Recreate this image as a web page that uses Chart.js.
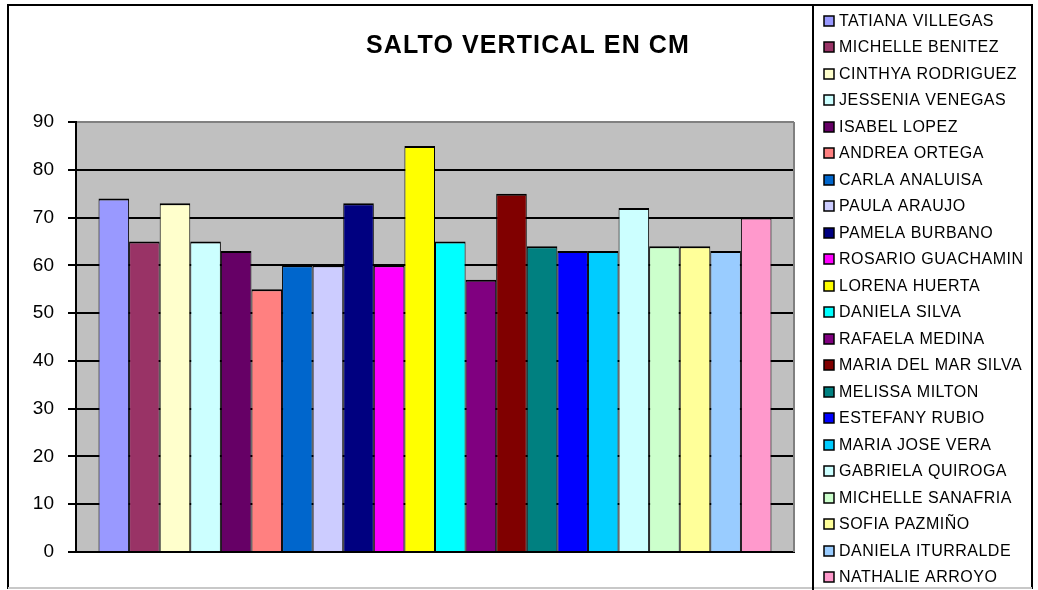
<!DOCTYPE html>
<html>
<head>
<meta charset="utf-8">
<script src="https://cdn.jsdelivr.net/npm/chart.js@4"></script>
<style>
  html, body { margin: 0; padding: 0; background: #fff; }
  #wrap { width: 1038px; height: 590px; position: relative; }
</style>
</head>
<body>
<div id="wrap"><canvas id="c" width="1038" height="590"></canvas></div>
<script>
// Vertical jump results (cm), one bar per athlete
const TITLE = 'SALTO VERTICAL EN CM';
const ATHLETES = [
  'TATIANA VILLEGAS', 'MICHELLE BENITEZ', 'CINTHYA RODRIGUEZ', 'JESSENIA VENEGAS',
  'ISABEL LOPEZ', 'ANDREA ORTEGA', 'CARLA ANALUISA', 'PAULA ARAUJO',
  'PAMELA BURBANO', 'ROSARIO GUACHAMIN', 'LORENA HUERTA', 'DANIELA SILVA',
  'RAFAELA MEDINA', 'MARIA DEL MAR SILVA', 'MELISSA MILTON', 'ESTEFANY RUBIO',
  'MARIA JOSE VERA', 'GABRIELA QUIROGA', 'MICHELLE SANAFRIA', 'SOFIA PAZMIÑO',
  'DANIELA ITURRALDE', 'NATHALIE ARROYO'
];
const JUMP_CM = [74, 65, 73, 65, 63, 55, 60, 60, 73, 60, 85, 65, 57, 75, 64, 63, 63, 72, 64, 64, 63, 70];
const BAR_COLORS = [
  '#9999FF', '#993366', '#FFFFCC', '#CCFFFF', '#660066', '#FF8080', '#0066CC', '#CCCCFF',
  '#000080', '#FF00FF', '#FFFF00', '#00FFFF', '#800080', '#800000', '#008080', '#0000FF',
  '#00CCFF', '#CCFFFF', '#CCFFCC', '#FFFF99', '#99CCFF', '#FF99CC'
];
const Y_MIN = 0;
const Y_MAX = 90;
const Y_STEP = 10;

const FONT = "'Liberation Sans', Arial, sans-serif";

// White page, outer frame and grey plot background
const framePlugin = {
  id: 'frame',
  beforeDraw(chart) {
    const { ctx, chartArea: a } = chart;
    ctx.save();
    ctx.fillStyle = '#fff';
    ctx.fillRect(0, 0, chart.width, chart.height);
    ctx.fillStyle = '#C0C0C0';
    ctx.fillRect(a.left, a.top, a.right - a.left, a.bottom - a.top);
    ctx.restore();
  },
  beforeDatasetsDraw(chart) {
    const { ctx, chartArea: a } = chart;
    ctx.save();
    ctx.strokeStyle = '#808080';
    ctx.lineWidth = 2;
    ctx.beginPath();
    ctx.moveTo(a.right, a.top);
    ctx.lineTo(a.right, a.bottom);
    ctx.stroke();
    ctx.restore();
  },
  afterDraw(chart) {
    const ctx = chart.ctx;
    ctx.save();
    // outer frame
    ctx.lineWidth = 2;
    ctx.strokeStyle = '#000';
    ctx.beginPath();
    ctx.moveTo(8, 589);
    ctx.lineTo(8, 5);
    ctx.lineTo(1032, 5);
    ctx.lineTo(1032, 589);
    ctx.stroke();
    ctx.strokeStyle = '#C8C8C8';
    ctx.beginPath();
    ctx.moveTo(8, 588);
    ctx.lineTo(1032, 588);
    ctx.stroke();

    // title
    ctx.fillStyle = '#000';
    ctx.font = 'bold 25px ' + FONT;
    ctx.letterSpacing = '1.1px';
    ctx.textAlign = 'center';
    ctx.textBaseline = 'alphabetic';
    ctx.fillText(TITLE, 528, 53);

    // legend box
    ctx.letterSpacing = '0px';
    ctx.strokeStyle = '#000';
    ctx.lineWidth = 2;
    ctx.beginPath();
    ctx.moveTo(813, 5);
    ctx.lineTo(813, 590);
    ctx.stroke();

    ctx.font = '16px ' + FONT;
    ctx.letterSpacing = '0.5px';
    ctx.textAlign = 'left';
    ctx.textBaseline = 'middle';
    chart.data.datasets.forEach((ds, i) => {
      const y = 20.5 + i * 26.5;
      ctx.fillStyle = ds.backgroundColor;
      ctx.fillRect(824, Math.round(y - 5), 10, 10);
      ctx.lineWidth = 1.5;
      ctx.strokeStyle = '#000';
      ctx.strokeRect(824, Math.round(y - 5), 10, 10);
      ctx.fillStyle = '#000';
      ctx.fillText(ds.label, 839, y + 1);
    });
    ctx.restore();
  }
};

const datasets = ATHLETES.map((name, i) => ({
  label: name,
  data: [JUMP_CM[i]],
  backgroundColor: BAR_COLORS[i],
  borderColor: '#000',
  borderWidth: { top: 2, left: 1, right: 1, bottom: 0 },
  barPercentage: 1.0,
  categoryPercentage: 0.9373
}));

new Chart(document.getElementById('c'), {
  type: 'bar',
  data: { labels: [''], datasets },
  plugins: [framePlugin],
  options: {
    responsive: false,
    animation: false,
    devicePixelRatio: 1,
    layout: { padding: { left: 0, top: 122, right: 244, bottom: 38 } },
    plugins: {
      legend: { display: false },
      title: { display: false },
      tooltip: { enabled: false }
    },
    scales: {
      x: {
        grid: { display: false },
        ticks: { display: false },
        border: { display: true, color: '#000', width: 2 },
        afterFit(s) { s.height = 0; }
      },
      y: {
        min: Y_MIN,
        max: Y_MAX,
        ticks: {
          stepSize: Y_STEP,
          color: '#000',
          padding: 14,
          font: { family: FONT, size: 19 }
        },
        grid: {
          color: c => (c.tick && c.tick.value === Y_MAX ? '#808080' : '#000'),
          lineWidth: 2,
          tickLength: 8,
          tickColor: '#000',
          drawTicks: true
        },
        border: { display: true, color: '#000', width: 2 },
        afterFit(s) { s.width = 76; }
      }
    }
  }
});
</script>
</body>
</html>
